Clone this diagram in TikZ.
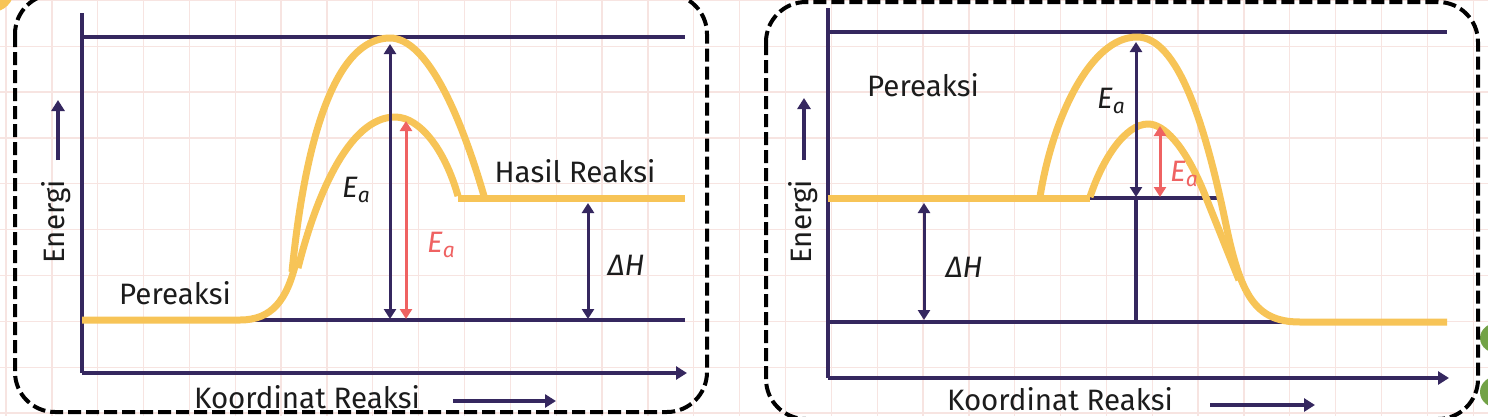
\documentclass[tikz,border=0pt]{standalone}
\usepackage{fontspec}
\setmainfont{Fira Sans}
\usetikzlibrary{arrows.meta}
\definecolor{navy}{HTML}{35275F}
\definecolor{gold}{HTML}{F7C457}
\definecolor{coral}{HTML}{EF6262}
\definecolor{gridc}{HTML}{F7E4E1}
\definecolor{leaf}{HTML}{72A246}
\definecolor{ink}{HTML}{1C1C1C}
\tikzset{
  gridline/.style={gridc,line width=1.3pt},
  panelbox/.style={draw=black,line width=4pt,dash pattern=on 13pt off 5pt,rounded corners=40pt},
  axisline/.style={navy,line width=3.4pt},
  lvl/.style={navy,line width=3.2pt},
  curve/.style={gold,line width=7pt,line cap=butt,line join=round},
  dblarrow/.style={navy,line width=3pt,{Triangle[width=12pt,length=10pt]}-{Triangle[width=12pt,length=10pt]}},
  redarrow/.style={coral,line width=3pt,{Triangle[width=12pt,length=10pt]}-{Triangle[width=12pt,length=10pt]}},
  onearrow/.style={navy,line width=3.4pt,-{Triangle[width=13pt,length=11pt]}},
  lbl/.style={font=\fontsize{29.5}{31}\selectfont,text=ink,inner sep=0pt},
  eal/.style={font=\fontsize{29.5}{31}\selectfont\itshape,inner sep=0pt}
}
\newcommand{\Ea}{E\raisebox{-5pt}{\fontsize{21}{21}\selectfont\itshape a}}
\begin{document}
\begin{tikzpicture}[x=1pt,y=-1pt]
\useasboundingbox (0,0) rectangle (1488,416);
\clip (0,0) rectangle (1488,416);
\fill[white] (0,0) rectangle (1488,416);
% background grid
\foreach \i in {0,...,32} \draw[gridline] ({6+45.85*\i},0) -- ++(0,416);
\foreach \j in {0,...,9} \draw[gridline] (0,{0.4+45.85*\j}) -- ++(1488,0);
% decorations at edges
\fill[gold] (-8,-10) circle (22);
\fill[leaf] (1500,338) ellipse (20 and 16);
\fill[leaf] (1498,392) ellipse (18 and 16);
% panel boxes
\draw[panelbox] (15,-6) rectangle (707,412);
\draw[panelbox] (766,2) rectangle (1478,419);

% ================= LEFT PANEL =================
\coordinate (LYt) at (82,13);
\coordinate (LO) at (82,373);
\coordinate (LXe) at (687,373);
\coordinate (LT1) at (82,37);
\coordinate (LT2) at (685,37);
\coordinate (LB1) at (82,320);
\coordinate (LB2) at (685,320);
\draw[axisline] (LYt) -- (LO);
\draw[onearrow] (LO) -- (LXe);
\draw[lvl] (LT1) -- (LT2);
\draw[lvl] (LB1) -- (LB2);
% curves
\draw[curve] (LB1) -- (240,320) .. controls (272,320) and (287,300) .. (296,262);
\draw[curve] (292,272) .. controls (305,140) and (335,38) .. (390,38) .. controls (428,38) and (462,120) .. (484,196);
\draw[curve] (298,268) .. controls (315,200) and (348,117) .. (395,117) .. controls (420,117) and (445,150) .. (458,196);
\draw[curve] (458,198) -- (685,198);
% arrows
\coordinate (LEat) at (390,44);
\coordinate (LEab) at (390,319);
\coordinate (LRat) at (406,121);
\coordinate (LRab) at (406,319);
\coordinate (LHt) at (588,203);
\coordinate (LHb) at (588,319);
\draw[dblarrow] (LEab) -- (LEat);
\draw[redarrow] (LRab) -- (LRat);
\draw[dblarrow] (LHb) -- (LHt);
% labels
\node[lbl] (lhasil) at (575,171) {Hasil Reaksi};
\node[lbl] (lper) at (175,293) {Pereaksi};
\node[eal,text=ink] (lea) at (356,190) {\Ea};
\node[eal,text=coral] (lrea) at (441,245) {\Ea};
\node[eal,text=ink] (ldh) at (626,265) {ΔH};
\node[lbl,rotate=90] (len) at (56,222) {Energi};
\coordinate (LEnA) at (58,160);
\coordinate (LEnB) at (58,100);
\draw[onearrow] (LEnA) -- (LEnB);
\node[lbl] (lkr) at (307,397) {Koordinat Reaksi};
\coordinate (LKA) at (453,401);
\coordinate (LKB) at (556,401);
\draw[onearrow] (LKA) -- (LKB);

% ================= RIGHT PANEL =================
\coordinate (RYt) at (828,8);
\coordinate (RO) at (828,378);
\coordinate (RXe) at (1449,378);
\coordinate (RT1) at (828,32);
\coordinate (RT2) at (1447,32);
\coordinate (RB1) at (828,322);
\coordinate (RB2) at (1300,322);
\coordinate (RM1) at (1090,198);
\coordinate (RM2) at (1218,198);
\draw[axisline] (RYt) -- (RO);
\draw[onearrow] (RO) -- (RXe);
\draw[lvl] (RT1) -- (RT2);
\draw[lvl] (RB1) -- (RB2);
\draw[lvl] (RM1) -- (RM2);
% curves
\draw[curve] (828,198) -- (1090,198);
\draw[curve] (1040,197) .. controls (1052,120) and (1090,37) .. (1137,37) .. controls (1178,37) and (1205,125) .. (1225,220) .. controls (1240,295) and (1255,322) .. (1300,322) -- (1447,322);
\draw[curve] (1090,197) .. controls (1102,160) and (1125,124) .. (1148,124) .. controls (1164,124) and (1184,145) .. (1203,190) -- (1239,280);
% arrows
\coordinate (REat) at (1136,42);
\coordinate (REab) at (1136,197);
\coordinate (REbot) at (1136,322);
\coordinate (RRat) at (1160,126);
\coordinate (RRab) at (1160,197);
\coordinate (RHt) at (924,203);
\coordinate (RHb) at (924,320);
\draw[dblarrow] (REab) -- (REat);
\draw[lvl] (REab) -- (REbot);
\draw[redarrow] (RRab) -- (RRat);
\draw[dblarrow] (RHb) -- (RHt);
% labels
\node[lbl] (rper) at (923,85) {Pereaksi};
\node[eal,text=ink] (rea) at (1111,101) {\Ea};
\node[eal,text=coral] (rrea) at (1184,174) {\Ea};
\node[eal,text=ink] (rdh) at (964,267) {ΔH};
\node[lbl,rotate=90] (ren) at (803,222) {Energi};
\coordinate (REnA) at (804,160);
\coordinate (REnB) at (804,98);
\draw[onearrow] (REnA) -- (REnB);
\node[lbl] (rkr) at (1060,399) {Koordinat Reaksi};
\coordinate (RKA) at (1210,405);
\coordinate (RKB) at (1315,405);
\draw[onearrow] (RKA) -- (RKB);
\end{tikzpicture}
\end{document}
